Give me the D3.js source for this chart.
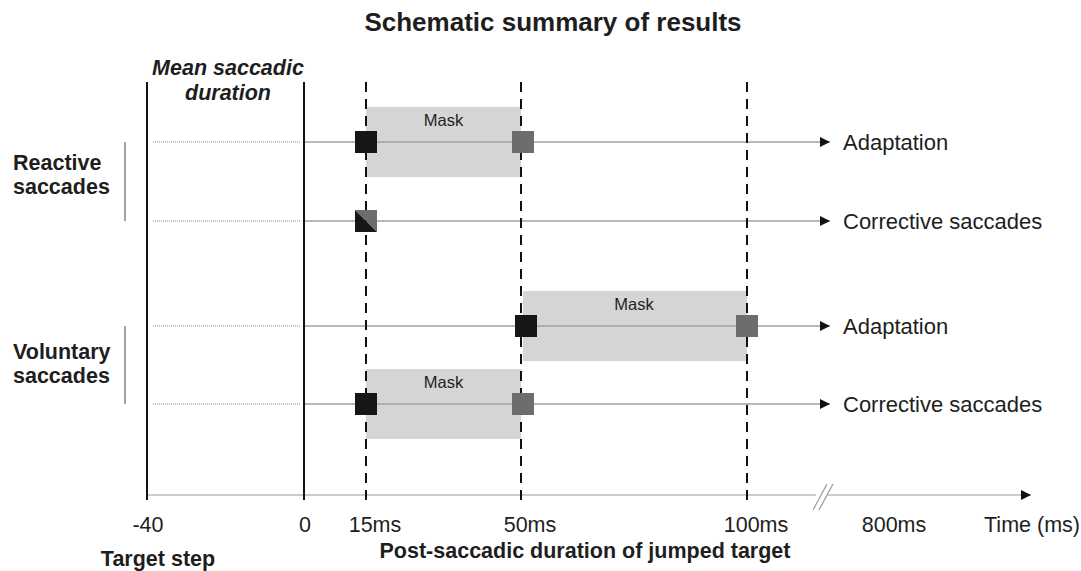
<!DOCTYPE html>
<html><head><meta charset="utf-8">
<script src="https://cdn.jsdelivr.net/npm/d3@7"></script>
<style>html,body{margin:0;padding:0;background:#fff;}svg{display:block;font-family:"Liberation Sans",Arial,sans-serif;}</style>
</head><body>
<svg id="c" width="1081" height="571"></svg>
<script>
// ---- data ----
const tickValues = [-40, 0, 15, 50, 100, 800];
const tickLabels = ["-40", "0", "15ms", "50ms", "100ms", "800ms"];
const solidLines = [-40, 0];
const dashedLines = [15, 50, 100];
const rowLabels = ["Adaptation", "Corrective saccades", "Adaptation", "Corrective saccades"];
const groupNames = [["Reactive", "saccades"], ["Voluntary", "saccades"]];
const groupRows = [[0, 1], [2, 3]];
const maskStart = [15, null, 50, 15];
const maskEnd = [50, null, 100, 50];
const blackAt = [15, 15, 50, 15];
const grayAt = [50, 15, 100, 50];

// ---- scales ----
const x = d3.scaleLinear().domain([-40, 0, 15, 50, 100, 800]).range([147, 304, 366, 521, 747, 885]);
const y = d3.scaleLinear().domain([0, 1, 2, 3]).range([142, 221, 326, 404]);
const axisY = 495, topY = 82, botY = 500;
const sq = 22;
const groupTextShift = [0, 6];
const cBlack = "#161616", cGray = "#6d6d6d", cMask = "#d5d5d5", cLine = "#a0a0a0", cText = "#1e1e1e";

const svg = d3.select("#c");
const defs = svg.append("defs");
defs.append("marker").attr("id", "arr").attr("viewBox", "0 0 10 10").attr("refX", 10).attr("refY", 5)
  .attr("markerWidth", 15).attr("markerHeight", 10).attr("markerUnits", "userSpaceOnUse").attr("orient", "auto")
  .append("path").attr("d", "M0,0L10,5L0,10z").attr("fill", "#111");

// title
svg.append("text").attr("x", 553).attr("y", 31).attr("text-anchor", "middle")
  .attr("font-size", 26).attr("font-weight", "bold").attr("fill", cText).text("Schematic summary of results");

// masks
const rowsIdx = d3.range(rowLabels.length);
const maskRows = rowsIdx.filter(i => maskStart[i] != null);
svg.selectAll("rect.mask").data(maskRows).join("rect")
  .attr("class", "mask").attr("x", i => x(maskStart[i]) + (maskStart[i] === 50 ? 2 : 0))
  .attr("width", i => x(maskEnd[i]) - x(maskStart[i]) - (maskStart[i] === 50 ? 2 : 0))
  .attr("y", i => y(i) - 35).attr("height", 70).attr("fill", cMask);
svg.selectAll("text.mask").data(maskRows).join("text")
  .attr("class", "mask").attr("x", i => (x(maskStart[i]) + x(maskEnd[i])) / 2).attr("y", i => y(i) - 16)
  .attr("text-anchor", "middle").attr("font-size", 16.5).attr("fill", cText).text("Mask");

// row lines
svg.selectAll("line.dot").data(rowsIdx).join("line").attr("class", "dot")
  .attr("x1", x(-40) + 6).attr("x2", x(0) - 4).attr("y1", y).attr("y2", y)
  .attr("stroke", "#888").attr("stroke-width", 1).attr("stroke-dasharray", "1,1");
svg.selectAll("line.row").data(rowsIdx).join("line").attr("class", "row")
  .attr("x1", x(0)).attr("x2", 830).attr("y1", y).attr("y2", y)
  .attr("stroke", cLine).attr("stroke-width", 1.3).attr("marker-end", "url(#arr)");
svg.selectAll("text.row").data(rowsIdx).join("text").attr("class", "row")
  .attr("x", 843).attr("y", i => y(i) + 7.5).attr("font-size", 22).attr("fill", cText).text(i => rowLabels[i]);

// time axis
svg.append("line").attr("x1", x(-40)).attr("x2", 1031).attr("y1", axisY).attr("y2", axisY)
  .attr("stroke", "#bbb").attr("stroke-width", 1.3).attr("marker-end", "url(#arr)");
// break marks
svg.append("rect").attr("x", 816).attr("y", 492).attr("width", 12).attr("height", 6).attr("fill", "#fff");
[0, 6].forEach(o => svg.append("line").attr("x1", 813 + o).attr("y1", 510).attr("x2", 827 + o).attr("y2", 484)
  .attr("stroke", "#999").attr("stroke-width", 1.2));

// vertical lines
svg.selectAll("line.solid").data(solidLines).join("line").attr("class", "solid")
  .attr("x1", x).attr("x2", x).attr("y1", topY).attr("y2", botY).attr("stroke", "#111").attr("stroke-width", 2);
svg.selectAll("line.dash").data(dashedLines).join("line").attr("class", "dash")
  .attr("x1", x).attr("x2", x).attr("y1", topY).attr("y2", botY).attr("stroke", "#111").attr("stroke-width", 2)
  .attr("stroke-dasharray", "10,7");

// squares
const split = rowsIdx.filter(i => grayAt[i] === blackAt[i]);
const whole = rowsIdx.filter(i => grayAt[i] !== blackAt[i]);
svg.selectAll("rect.gray").data(whole).join("rect").attr("class", "gray")
  .attr("x", i => x(grayAt[i]) + (grayAt[i] === 50 ? 2 : 0) - sq / 2).attr("y", i => y(i) - sq / 2)
  .attr("width", sq).attr("height", sq).attr("fill", cGray);
svg.selectAll("rect.black").data(whole).join("rect").attr("class", "black")
  .attr("x", i => x(blackAt[i]) + (blackAt[i] === 50 ? 5 : 0) - sq / 2).attr("y", i => y(i) - sq / 2)
  .attr("width", sq).attr("height", sq).attr("fill", cBlack);
split.forEach(i => {
  const cx = x(blackAt[i]), cy = y(i), h = sq / 2;
  svg.append("path").attr("d", `M${cx - h},${cy - h}L${cx + h},${cy - h}L${cx + h},${cy + h}z`).attr("fill", cGray);
  svg.append("path").attr("d", `M${cx - h},${cy - h}L${cx + h},${cy + h}L${cx - h},${cy + h}z`).attr("fill", cBlack);
});

// tick labels
svg.selectAll("text.tick").data(tickValues).join("text").attr("class", "tick")
  .attr("x", d => x(d)).attr("dx", (d, i) => tickLabels[i].endsWith("ms") ? 9 : 1)
  .attr("y", 532).attr("text-anchor", "middle").attr("font-size", 21.5).attr("fill", cText)
  .text((d, i) => tickLabels[i]);
svg.append("text").attr("x", 1032).attr("y", 532).attr("text-anchor", "middle").attr("font-size", 21.5).attr("fill", cText).text("Time (ms)");

// bottom labels
svg.append("text").attr("x", 158).attr("y", 566).attr("text-anchor", "middle").attr("font-size", 21.5).attr("font-weight", "bold").attr("fill", cText).text("Target step");
svg.append("text").attr("x", 585).attr("y", 558).attr("text-anchor", "middle").attr("font-size", 21.5).attr("font-weight", "bold").attr("fill", cText).text("Post-saccadic duration of jumped target");

// mean saccadic duration
const msd = svg.append("text").attr("text-anchor", "middle").attr("font-size", 21.5).attr("font-weight", "bold").attr("font-style", "italic").attr("fill", cText);
msd.append("tspan").attr("x", 228).attr("y", 75).text("Mean saccadic");
msd.append("tspan").attr("x", 228).attr("y", 100).text("duration");

// groups
groupNames.forEach((g, k) => {
  const r = groupRows[k];
  const y0 = y(r[0]), y1 = y(r[1]), mid = (y0 + y1) / 2 + groupTextShift[k];
  svg.append("line").attr("x1", 125).attr("x2", 125).attr("y1", y0).attr("y2", y1).attr("stroke", "#666").attr("stroke-width", 1.2);
  const t = svg.append("text").attr("font-size", 21.5).attr("font-weight", "bold").attr("fill", cText);
  t.append("tspan").attr("x", 13).attr("y", mid - 12).text(g[0]);
  t.append("tspan").attr("x", 13).attr("y", mid + 12).text(g[1]);
});
</script>
</body></html>
